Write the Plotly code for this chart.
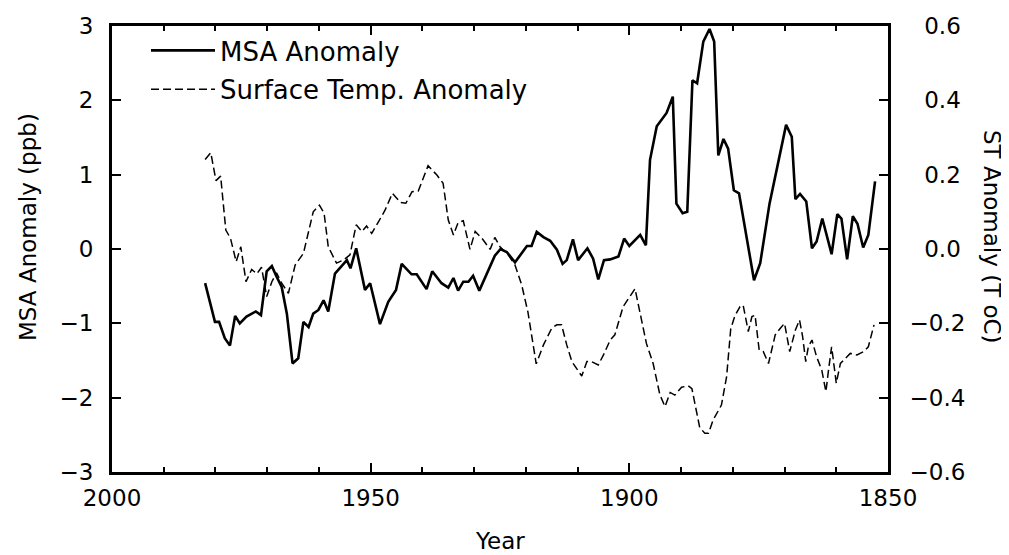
import plotly.graph_objects as go

# ---- data ----
msa_years = [1982.0, 1980.1, 1979.3, 1978.2, 1977.2, 1976.2, 1975.3, 1974.0, 1972.2, 1971.2,
             1970.1, 1969.1, 1968.2, 1967.2, 1966.2, 1965.1, 1964.0, 1963.0, 1962.0, 1961.1,
             1960.1, 1959.1, 1958.2, 1956.9, 1954.6, 1953.9, 1952.8, 1951.1, 1950.1, 1948.2,
             1946.6, 1945.1, 1944.0, 1942.1, 1941.1, 1939.2, 1938.1, 1936.3, 1935.0, 1934.0,
             1933.1, 1932.1, 1931.1, 1930.2, 1929.0, 1927.6, 1926.0, 1924.9, 1923.7, 1922.1,
             1921.1, 1919.8, 1918.9, 1917.9, 1916.6, 1915.3, 1914.0, 1912.9, 1912.1, 1910.9,
             1909.9, 1908.1, 1907.0, 1906.0, 1904.9, 1903.7, 1902.1, 1901.0, 1900.0, 1897.9,
             1896.8, 1896.0, 1894.7, 1892.8, 1891.6, 1890.9, 1889.7, 1888.8, 1887.8, 1886.9,
             1885.7, 1884.5, 1883.6, 1882.8, 1881.8, 1880.9, 1879.8, 1878.8, 1875.9, 1874.7,
             1872.9, 1870.7, 1869.7, 1868.6, 1867.9, 1867.0, 1865.8, 1864.7, 1863.8, 1862.7,
             1860.9, 1859.8, 1859.0, 1857.9, 1856.8, 1855.9, 1854.8, 1853.8, 1852.5]
msa_values = [-0.46, -0.98, -0.98, -1.20, -1.30, -0.90, -1.00, -0.91, -0.84, -0.89,
              -0.30, -0.23, -0.37, -0.51, -0.87, -1.54, -1.47, -0.98, -1.05, -0.87,
              -0.82, -0.69, -0.84, -0.33, -0.15, -0.26, 0.01, -0.55, -0.46, -1.01,
              -0.71, -0.55, -0.20, -0.34, -0.34, -0.54, -0.30, -0.46, -0.52, -0.39,
              -0.56, -0.44, -0.44, -0.36, -0.56, -0.35, -0.09, 0.00, -0.04, -0.18,
              -0.09, 0.04, 0.04, 0.23, 0.16, 0.11, -0.01, -0.20, -0.15, 0.13,
              -0.15, 0.01, -0.13, -0.41, -0.15, -0.14, -0.10, 0.14, 0.04, 0.19,
              0.05, 1.20, 1.65, 1.83, 2.05, 0.61, 0.48, 0.50, 2.27, 2.23,
              2.79, 2.96, 2.79, 1.26, 1.48, 1.35, 0.79, 0.75, -0.42, -0.19,
              0.61, 1.33, 1.67, 1.51, 0.67, 0.74, 0.64, 0.01, 0.10, 0.41,
              -0.07, 0.47, 0.41, -0.14, 0.44, 0.34, 0.02, 0.19, 0.91]

st_years = [1982.0, 1980.9, 1979.9, 1979.0, 1978.0, 1977.1, 1976.0, 1975.1, 1974.1, 1973.0,
            1972.0, 1971.1, 1970.1, 1969.1, 1968.2, 1967.2, 1965.9, 1964.6, 1963.0, 1961.1,
            1959.9, 1959.0, 1958.2, 1956.6, 1955.3, 1954.0, 1952.8, 1951.7, 1950.8, 1949.8,
            1948.5, 1947.2, 1945.8, 1944.2, 1943.2, 1942.0, 1940.8, 1938.9, 1937.2, 1936.0,
            1935.0, 1934.0, 1933.1, 1932.1, 1930.8, 1929.8, 1928.5, 1926.9, 1926.0, 1925.0,
            1923.4, 1922.1, 1920.8, 1919.6, 1918.0, 1916.6, 1915.0, 1914.0, 1913.1, 1912.1,
            1911.1, 1909.2, 1908.2, 1907.3, 1906.0, 1905.0, 1903.7, 1902.8, 1901.2, 1898.9,
            1896.7, 1895.4, 1894.1, 1893.1, 1892.1, 1891.2, 1889.9, 1888.6, 1887.9, 1886.4,
            1885.4, 1884.7, 1883.8, 1882.2, 1881.2, 1880.4, 1879.6, 1878.6, 1878.0, 1877.0,
            1876.3, 1875.7, 1874.9, 1874.1, 1873.1, 1871.8, 1870.8, 1870.0, 1869.0, 1867.9,
            1867.1, 1866.5, 1865.9, 1865.4, 1864.7, 1863.8, 1862.8, 1862.0, 1861.5, 1860.9,
            1860.4, 1860.0, 1859.2, 1858.3, 1857.3, 1856.0, 1854.7, 1853.8, 1852.7]
st_values = [0.241, 0.259, 0.184, 0.196, 0.051, 0.029, -0.034, 0.006, -0.088, -0.055,
             -0.067, -0.049, -0.128, -0.088, -0.064, -0.092, -0.119, -0.043, -0.012, 0.100,
             0.118, 0.096, 0.006, -0.038, -0.030, -0.016, 0.065, 0.047, 0.062, 0.042,
             0.073, 0.105, 0.150, 0.125, 0.123, 0.154, 0.156, 0.224, 0.199, 0.177,
             0.078, 0.038, 0.071, 0.076, -0.001, 0.047, 0.029, -0.001, 0.031, 0.006,
             -0.016, -0.043, -0.097, -0.170, -0.309, -0.258, -0.213, -0.204, -0.204, -0.258,
             -0.303, -0.342, -0.303, -0.303, -0.312, -0.285, -0.245, -0.231, -0.155, -0.107,
             -0.254, -0.308, -0.392, -0.424, -0.386, -0.393, -0.372, -0.368, -0.376, -0.480,
             -0.496, -0.496, -0.460, -0.420, -0.344, -0.215, -0.180, -0.155, -0.151, -0.222,
             -0.182, -0.178, -0.272, -0.276, -0.308, -0.231, -0.213, -0.200, -0.276, -0.218,
             -0.191, -0.236, -0.303, -0.263, -0.245, -0.290, -0.326, -0.384, -0.326, -0.263,
             -0.317, -0.361, -0.308, -0.294, -0.281, -0.285, -0.276, -0.263, -0.204]

x_tickvals = [2000, 1950, 1900, 1850]
y_tickvals = [-3, -2, -1, 0, 1, 2, 3]
y2_tickvals = [-0.6, -0.4, -0.2, 0.0, 0.2, 0.4, 0.6]
y2_ticktext = ["\u22120.6", "\u22120.4", "\u22120.2", "\u20070.0", "\u20070.2", "\u20070.4", "\u20070.6"]

FONT = "DejaVu Sans"

# page offset (body margin) compensation and plot-area geometry
OFF = 8
L, T, PW, PH = 104, 18, 776, 446


def sx(px):
    return (px - OFF - L) / PW


def sy(py):
    return 1 - (py - OFF - T) / PH


fig = go.Figure()
fig.add_trace(go.Scatter(x=msa_years, y=msa_values, mode="lines", name="MSA Anomaly",
                         line=dict(color="black", width=2.6), legendgroup="a"))
fig.add_trace(go.Scatter(x=st_years, y=st_values, mode="lines", name="Surface Temp. Anomaly",
                         line=dict(color="black", width=1.5, dash="8px,4px"),
                         yaxis="y2", legendgroup="b"))

fig.update_layout(
    width=1009, height=555,
    margin=dict(l=L, r=1009 - L - PW, t=T, b=555 - T - PH, autoexpand=False),
    paper_bgcolor="white", plot_bgcolor="white",
    font=dict(family=FONT, color="black", size=23),
    showlegend=True,
    legend=dict(x=sx(146), y=sy(27), xanchor="left", yanchor="top",
                bgcolor="rgba(0,0,0,0)", font=dict(size=26, family=FONT),
                tracegroupgap=2, itemwidth=64),
    xaxis=dict(range=[2000, 1850], tickvals=x_tickvals, ticks="inside", ticklen=9,
               tickwidth=2, tickcolor="black", showline=True, linewidth=3, linecolor="black",
               mirror="ticks", showgrid=False, zeroline=False,
               tickfont=dict(size=23, family=FONT), ticklabelstandoff=3,
               minor=dict(dtick=10, ticks="inside", ticklen=5, tickwidth=1.5,
                          tickcolor="black", showgrid=False)),
    yaxis=dict(range=[-3, 3], tickvals=y_tickvals, ticks="inside", ticklen=9, tickwidth=2,
               tickcolor="black", showline=True, linewidth=3, linecolor="black",
               showgrid=False, zeroline=False, tickfont=dict(size=23, family=FONT),
               ticklabelstandoff=11),
    yaxis2=dict(range=[-0.6, 0.6], tickvals=y2_tickvals, ticktext=y2_ticktext,
                overlaying="y", side="right", ticks="inside", ticklen=9, tickwidth=2,
                tickcolor="black", showline=True, linewidth=3, linecolor="black",
                showgrid=False, zeroline=False, tickfont=dict(size=23, family=FONT),
                ticklabelstandoff=14),
    annotations=[
        dict(text="MSA Anomaly (ppb)", xref="paper", yref="paper", x=sx(28), y=sy(227),
             textangle=-90, showarrow=False, font=dict(size=23, family=FONT),
             xanchor="center", yanchor="middle"),
        dict(text="ST Anomaly (T oC)", xref="paper", yref="paper", x=sx(992), y=sy(237),
             textangle=90, showarrow=False, font=dict(size=23, family=FONT),
             xanchor="center", yanchor="middle"),
        dict(text="Year", xref="paper", yref="paper", x=sx(500), y=sy(541),
             showarrow=False, font=dict(size=23, family=FONT), xanchor="center", yanchor="middle"),
    ],
)

fig.write_html("out.html")
